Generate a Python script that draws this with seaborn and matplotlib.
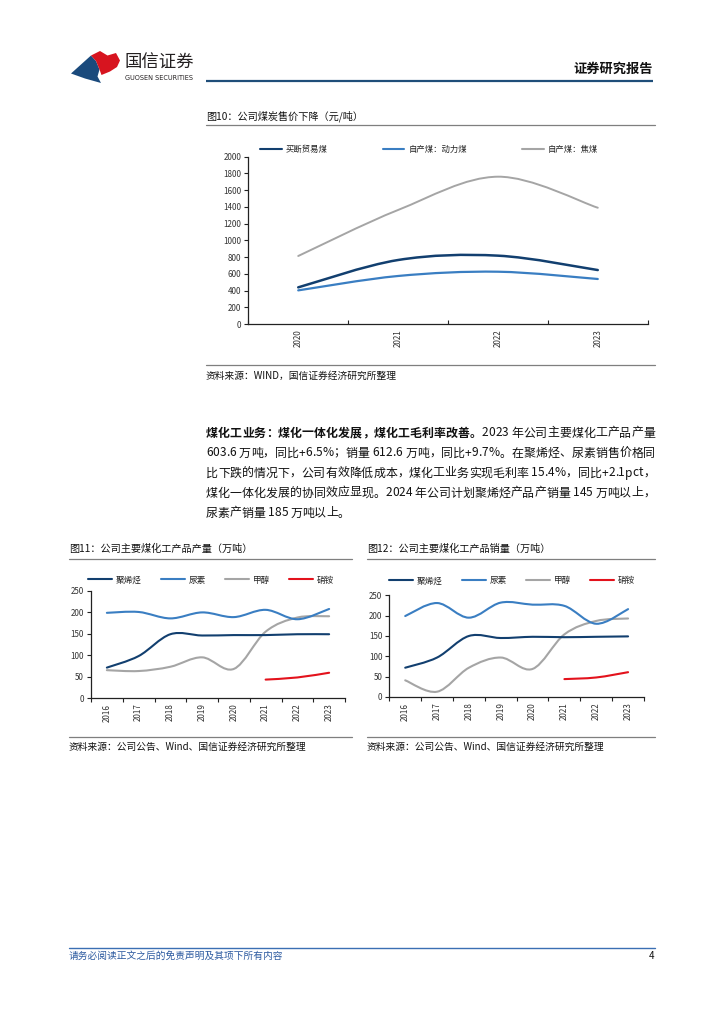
import numpy as np
import matplotlib
matplotlib.use("Agg")
import matplotlib.pyplot as plt
import seaborn as sns
from matplotlib.path import Path
from matplotlib.patches import PathPatch, Polygon
from matplotlib.lines import Line2D
from matplotlib.font_manager import FontProperties

sns.set_theme(style="ticks")
FAM = ["Noto Sans CJK SC", "DejaVu Sans"]
plt.rcParams["font.family"] = FAM
plt.rcParams["axes.unicode_minus"] = False

# ---------------- data ----------------
price_years = ["2020", "2021", "2022", "2023"]
price_labels = ["买断贸易煤", "自产煤：动力煤", "自产煤：焦煤"]
price_trade = [438, 765, 817, 645]
price_thermal = [402, 574, 625, 538]
price_coking = [813, 1363, 1761, 1390]

chem_years = ["2016", "2017", "2018", "2019", "2020", "2021", "2022", "2023"]
chem_labels = ["聚烯烃", "尿素", "甲醇", "硝铵"]
prod_polyolefin = [71, 98, 149, 146, 147, 147, 149, 149]
prod_urea = [199, 201, 186, 200, 189, 206, 184, 208]
prod_methanol = [65, 63, 73, 95, 68, 155, 188, 191]
prod_an = [np.nan, np.nan, np.nan, np.nan, np.nan, 43, 48, 59]
sales_polyolefin = [72, 97, 150, 145, 148, 147, 148, 149]
sales_urea = [199, 231, 195, 232, 227, 224, 180, 216]
sales_methanol = [41, 13, 72, 97, 69, 154, 187, 193]
sales_an = [np.nan, np.nan, np.nan, np.nan, np.nan, 44, 48, 61]

C_NAVY = "#123f6f"
C_BLUE = "#3a7ec2"
C_GREY = "#a5a5a5"
C_RED = "#e3121c"

W, H = 724, 1024
fig = plt.figure(figsize=(W / 100, H / 100), dpi=100)
fig.patch.set_facecolor("white")

page = fig.add_axes([0, 0, 1, 1])
page.set_xlim(0, W)
page.set_ylim(H, 0)
page.axis("off")
page.set_facecolor("none")


def rect(l, t, r, b):
    return [l / W, 1 - b / H, (r - l) / W, (b - t) / H]


def smooth_line(ax, xs, ys, color, lw):
    pts = np.array([(x, y) for x, y in zip(xs, ys) if not np.isnan(y)], float)
    n = len(pts)
    verts = [pts[0]]
    codes = [Path.MOVETO]
    for i in range(n - 1):
        p0 = pts[i - 1] if i > 0 else pts[i]
        p1 = pts[i]
        p2 = pts[i + 1]
        p3 = pts[i + 2] if i + 2 < n else pts[i + 1]
        verts += [p1 + (p2 - p0) / 6.0, p2 - (p3 - p1) / 6.0, p2]
        codes += [Path.CURVE4] * 3
    ax.add_patch(PathPatch(Path(verts, codes), fill=False, edgecolor=color,
                           lw=lw, capstyle="round", joinstyle="round", zorder=3))


def style_axes(ax, cats, ymax, ystep, tick_fs=5.8, xdir="out"):
    n = len(cats)
    ax.set_facecolor("none")
    ax.set_xlim(-0.5, n - 0.5)
    ax.set_ylim(0, ymax)
    ax.set_yticks(np.arange(0, ymax + 1, ystep))
    ax.set_xticks(range(n))
    ax.set_xticklabels(cats, rotation=90, fontsize=tick_fs, color="#333333")
    ax.set_xticks(np.arange(-0.5, n, 1.0), minor=True)
    ax.tick_params(axis="x", which="major", length=0, pad=4)
    ax.tick_params(axis="x", which="minor", length=3, width=0.8, direction=xdir, color="#222222")
    ax.tick_params(axis="y", length=3, width=0.8, direction="out", pad=2,
                   labelsize=tick_fs, labelcolor="#333333", color="#222222")
    ax.grid(False)
    sns.despine(ax=ax)
    for s in ("left", "bottom"):
        ax.spines[s].set_color("#222222")
        ax.spines[s].set_linewidth(0.9)


def legend(ax, labels, colors, x_px, y_px, fs, hl, tp, cs):
    handles = [Line2D([0], [0], color=c, lw=1.5) for c in colors]
    ax.legend(handles, labels, loc="center left",
              bbox_to_anchor=(x_px / W, 1 - y_px / H), bbox_transform=fig.transFigure,
              ncol=len(labels), frameon=False, fontsize=fs, handlelength=hl,
              handletextpad=tp, columnspacing=cs, borderpad=0, borderaxespad=0,
              labelcolor="#222222")


# ---------------- header ----------------
page.add_patch(Polygon([(71, 73.5), (91, 55.5), (96, 61), (99.5, 69.5), (97.5, 76.5), (101, 83), (85, 78.5)],
                       closed=True, facecolor="#1a4a7c", edgecolor="none"))
page.add_patch(Polygon([(91, 55.5), (100, 51), (107.5, 55.5), (116, 53), (120, 60.5), (117, 67),
                        (110, 71.5), (101.5, 75), (99.5, 69.5), (96, 61)],
                       closed=True, facecolor="#d7141f", edgecolor="none"))
page.text(124, 62.5, "国信证券", fontsize=12.5, color="#231f20", va="center", ha="left")
page.text(125, 77.5, "GUOSEN SECURITIES", fontsize=4.7, color="#231f20", va="center", ha="left",
          family="DejaVu Sans")
page.text(653, 69, "证券研究报告", fontsize=9.5, weight="bold", color="#111111", va="center", ha="right")
page.plot([206, 653], [81, 81], color="#1f4e79", lw=1.6, solid_capstyle="butt")


def block_frame(x0, x1, title, title_y, line1_y, line2_y, source, source_y):
    page.text(x0, title_y, title, fontsize=7.3, color="#111111", va="center", ha="left")
    page.plot([x0, x1], [line1_y, line1_y], color="#7f7f7f", lw=0.9)
    page.plot([x0, x1], [line2_y, line2_y], color="#7f7f7f", lw=0.9)
    page.text(x0, source_y, source, fontsize=7.0, color="#111111", va="center", ha="left")


# ---------------- figure 10 ----------------
block_frame(206, 655, "图10：公司煤炭售价下降（元/吨）", 116.5, 125, 365,
            "资料来源：WIND，国信证券经济研究所整理", 376)
ax10 = fig.add_axes(rect(248.3, 156.7, 647.7, 324))
style_axes(ax10, price_years, 2000, 200, xdir="in")
x10 = np.arange(len(price_years))
smooth_line(ax10, x10, price_coking, C_GREY, 1.4)
smooth_line(ax10, x10, price_thermal, C_BLUE, 1.6)
smooth_line(ax10, x10, price_trade, C_NAVY, 1.8)
legend(ax10, price_labels, [C_NAVY, C_BLUE, C_GREY], 260, 149.3, 6.0, 2.6, 0.5, 6.6)

# ---------------- paragraph ----------------
renderer = fig.canvas.get_renderer()
fp_n = FontProperties(family=FAM, size=8.6)
fp_b = FontProperties(family=FAM, size=8.6, weight="bold")


def adv(ch, fp):
    w2 = renderer.get_text_width_height_descent("国国", fp, ismath=False)[0]
    w3 = renderer.get_text_width_height_descent("国" + ch + "国", fp, ismath=False)[0]
    return w3 - w2


def draw_line(segments, y, x0=206, x1=655, justify=True):
    chars = []
    for txt, bold in segments:
        for ch in txt:
            chars.append((ch, fp_b if bold else fp_n))
    widths = [adv(ch, fp) for ch, fp in chars]
    total = sum(widths)
    extra = (x1 - x0 - total) / (len(chars) - 1) if justify else 0.0
    x = x0
    for (ch, fp), w in zip(chars, widths):
        if ch != " ":
            page.text(x, y, ch, fontproperties=fp, color="#111111", va="center", ha="left")
        x += w + extra


para = [
    ([("煤化工业务：煤化一体化发展，煤化工毛利率改善。", True), ("2023 年公司主要煤化工产品产量", False)], True),
    ([("603.6 万吨，同比+6.5%；销量 612.6 万吨，同比+9.7%。在聚烯烃、尿素销售价格同", False)], True),
    ([("比下跌的情况下，公司有效降低成本，煤化工业务实现毛利率 15.4%，同比+2.1pct，", False)], True),
    ([("煤化一体化发展的协同效应显现。2024 年公司计划聚烯烃产品产销量 145 万吨以上，", False)], True),
    ([("尿素产销量 185 万吨以上。", False)], False),
]
for i, (segs, just) in enumerate(para):
    draw_line(segs, 433 + 20 * i, justify=just)

# ---------------- figure 11 ----------------
block_frame(69, 352, "图11：公司主要煤化工产品产量（万吨）", 549, 559, 737,
            "资料来源：公司公告、Wind、国信证券经济研究所整理", 747)
ax11 = fig.add_axes(rect(91, 591, 345, 698))
style_axes(ax11, chem_years, 250, 50)
xc = np.arange(len(chem_years))
smooth_line(ax11, xc, prod_methanol, C_GREY, 1.5)
smooth_line(ax11, xc, prod_urea, C_BLUE, 1.5)
smooth_line(ax11, xc, prod_polyolefin, C_NAVY, 1.5)
smooth_line(ax11, xc, prod_an, C_RED, 1.5)
legend(ax11, chem_labels, [C_NAVY, C_BLUE, C_GREY, C_RED], 88, 580, 6.2, 2.8, 0.45, 2.2)

# ---------------- figure 12 ----------------
block_frame(367, 655, "图12：公司主要煤化工产品销量（万吨）", 549, 559, 737,
            "资料来源：公司公告、Wind、国信证券经济研究所整理", 747)
ax12 = fig.add_axes(rect(389.3, 595.3, 644, 697))
style_axes(ax12, chem_years, 250, 50)
smooth_line(ax12, xc, sales_methanol, C_GREY, 1.5)
smooth_line(ax12, xc, sales_urea, C_BLUE, 1.5)
smooth_line(ax12, xc, sales_polyolefin, C_NAVY, 1.5)
smooth_line(ax12, xc, sales_an, C_RED, 1.5)
legend(ax12, chem_labels, [C_NAVY, C_BLUE, C_GREY, C_RED], 389, 581, 6.2, 2.8, 0.45, 2.2)

# ---------------- footer ----------------
page.plot([69, 655], [948, 948], color="#3b6fb3", lw=1.0)
page.text(69, 956, "请务必阅读正文之后的免责声明及其项下所有内容", fontsize=7.0, color="#2c5aa0",
          va="center", ha="left", style="italic")
page.text(654, 956, "4", fontsize=7.0, color="#111111", va="center", ha="right")

fig.savefig("out.png", dpi=100, facecolor="white")
